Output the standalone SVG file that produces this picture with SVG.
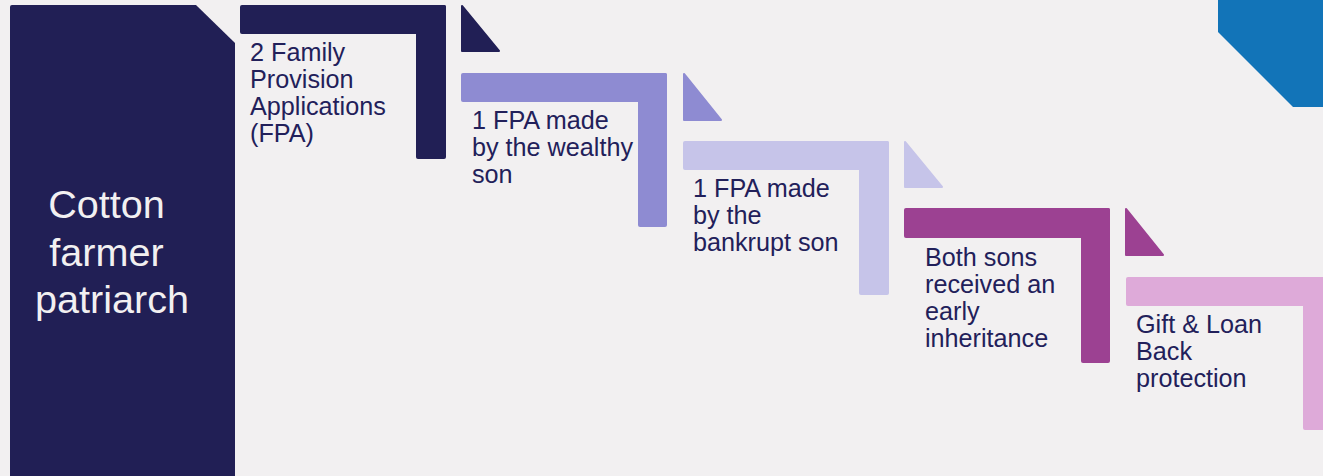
<svg xmlns="http://www.w3.org/2000/svg" width="1323" height="476" viewBox="0 0 1323 476">
  <style>
    .lbl { font-family: "Liberation Sans", Arial, sans-serif; font-size: 25.2px; fill: #22205A; }
    .hero { font-family: "Liberation Sans", Arial, sans-serif; font-size: 39.6px; fill: #F2F0F1; text-anchor: middle; }
    .tri { stroke-width: 2; stroke-linejoin: round; }
    .c1 { fill: #211F55; stroke: #211F55; }
    .c2 { fill: #8E8BD2; stroke: #8E8BD2; }
    .c3 { fill: #C6C4E9; stroke: #C6C4E9; }
    .c4 { fill: #9C4192; stroke: #9C4192; }
    .c5 { fill: #DEAAD9; stroke: #DEAAD9; }
    rect.c1, rect.c2, rect.c3, rect.c4, rect.c5 { stroke: none; }
  </style>

  <!-- page background -->
  <rect x="0" y="0" width="1323" height="476" fill="#F2F0F1"/>

  <!-- corner accent, top right -->
  <g id="corner-accent">
    <polygon points="1218,-2 1325,-2 1325,107 1293,107 1218,32" fill="#1274B8"/>
  </g>

  <!-- root block -->
  <g id="patriarch">
    <path d="M12,5 L196,5 L235,43 L235,480 L10,480 L10,7 Q10,5 12,5 Z" fill="#211F55"/>
    <text class="hero">
      <tspan x="112" y="218">Cotton</tspan>
      <tspan x="112" y="266">farmer</tspan>
      <tspan x="112" y="313">patriarch</tspan>
    </text>
  </g>

  <!-- step 1 -->
  <g id="step-1">
    <rect class="c1" x="240" y="5" width="206" height="29" rx="2"/>
    <rect class="c1" x="416" y="5" width="30" height="154" rx="2"/>
    <polygon class="c1 tri" points="462,6 462,51 499,51"/>
    <text class="lbl">
      <tspan x="250" y="61">2 Family</tspan>
      <tspan x="250" y="88">Provision</tspan>
      <tspan x="250" y="115">Applications</tspan>
      <tspan x="250" y="142">(FPA)</tspan>
    </text>
  </g>

  <!-- step 2 -->
  <g id="step-2">
    <rect class="c2" x="461" y="73" width="206" height="29" rx="2"/>
    <rect class="c2" x="638" y="73" width="29" height="154" rx="2"/>
    <polygon class="c2 tri" points="684,74 684,120 721,120"/>
    <text class="lbl">
      <tspan x="472" y="129">1 FPA made</tspan>
      <tspan x="472" y="156">by the wealthy</tspan>
      <tspan x="472" y="183">son</tspan>
    </text>
  </g>

  <!-- step 3 -->
  <g id="step-3">
    <rect class="c3" x="683" y="141" width="206" height="29" rx="2"/>
    <rect class="c3" x="859" y="141" width="30" height="154" rx="2"/>
    <polygon class="c3 tri" points="905,142 905,187 942,187"/>
    <text class="lbl">
      <tspan x="693" y="197">1 FPA made</tspan>
      <tspan x="693" y="224">by the</tspan>
      <tspan x="693" y="251">bankrupt son</tspan>
    </text>
  </g>

  <!-- step 4 -->
  <g id="step-4">
    <rect class="c4" x="904" y="208" width="206" height="30" rx="2"/>
    <rect class="c4" x="1081" y="208" width="29" height="155" rx="2"/>
    <polygon class="c4 tri" points="1126,209 1126,255 1163,255"/>
    <text class="lbl">
      <tspan x="925" y="266">Both sons</tspan>
      <tspan x="925" y="293">received an</tspan>
      <tspan x="925" y="320">early</tspan>
      <tspan x="925" y="347">inheritance</tspan>
    </text>
  </g>

  <!-- step 5 (runs off the right edge) -->
  <g id="step-5">
    <rect class="c5" x="1126" y="277" width="210" height="29" rx="2"/>
    <rect class="c5" x="1303" y="277" width="32" height="153" rx="2"/>
    <text class="lbl">
      <tspan x="1136" y="333">Gift &amp; Loan</tspan>
      <tspan x="1136" y="360">Back</tspan>
      <tspan x="1136" y="387">protection</tspan>
    </text>
  </g>
</svg>
